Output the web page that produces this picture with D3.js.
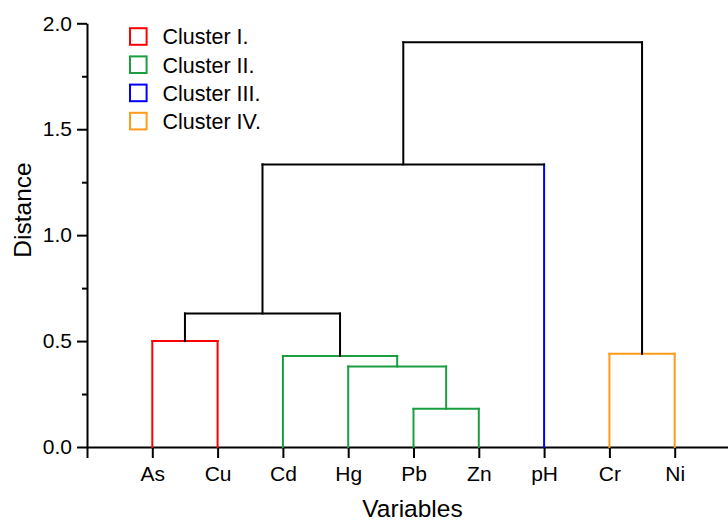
<!DOCTYPE html>
<html>
<head>
<meta charset="utf-8">
<script src="https://cdn.jsdelivr.net/npm/d3@7"></script>
<style>
  body { margin: 0; background: #fff; }
  svg text { font-family: "Liberation Sans", Arial, sans-serif; fill: #000; }
</style>
</head>
<body>
<svg id="chart" width="728" height="521"></svg>
<script>
// leaves in the order drawn along the x axis
var leaves = ["As", "Cu", "Cd", "Hg", "Pb", "Zn", "pH", "Cr", "Ni"];
// cluster index of each leaf
var leafCluster = [0, 0, 1, 1, 1, 1, 2, 3, 3];
var clusterNames = ["Cluster I.", "Cluster II.", "Cluster III.", "Cluster IV."];
var clusterColors = ["#ff0000", "#1a9e40", "#0000ff", "#ff9a1a"];
// merges: [child a, child b, distance]; leaves are 0-8, merge k gets id 9+k
var mergeA = [4, 3, 2, 7, 0, 13, 14, 15];
var mergeB = [5, 9, 10, 8, 1, 11, 6, 12];
var mergeH = [0.18, 0.38, 0.43, 0.44, 0.50, 0.63, 1.334, 1.91];
var yTicks = [0, 0.5, 1.0, 1.5, 2.0];
var yMinor = [0.25, 0.75, 1.25, 1.75];

var svg = d3.select("#chart");

var x = d3.scaleLinear().domain([0, 10]).range([87, 740]);
var y = d3.scaleLinear().domain([0, 2]).range([447, 23.3]);

// node positions
var nodeX = [], nodeH = [], nodeCl = [];
leaves.forEach(function(d, i){
    nodeX[i] = x(i + 1);
    nodeH[i] = 0;
    nodeCl[i] = leafCluster[i];
});
mergeH.forEach(function(h, k){
    var a = mergeA[k], b = mergeB[k], id = leaves.length + k;
    nodeX[id] = (nodeX[a] + nodeX[b]) / 2;
    nodeH[id] = h;
    nodeCl[id] = (nodeCl[a] === nodeCl[b]) ? nodeCl[a] : -1;
});

function colorOf(c){ return c < 0 ? "#000" : clusterColors[c]; }

// axes
var xAxis = d3.axisBottom(x)
    .tickValues(d3.range(0, 10))
    .tickSize(11)
    .tickSizeOuter(0)
    .tickPadding(8)
    .tickFormat(function(i){ return i === 0 ? "" : leaves[i - 1]; });

var gx = svg.append("g")
    .attr("transform", "translate(0," + y(0) + ")")
    .call(xAxis);
gx.selectAll("text").style("font-size", "21px");

var gyMinor = svg.append("g")
    .attr("transform", "translate(" + x(0) + ",0)")
    .call(d3.axisLeft(y).tickValues(yMinor).tickSize(5).tickFormat(""));
gyMinor.select(".domain").remove();

var gy = svg.append("g")
    .attr("transform", "translate(" + x(0) + ",0)")
    .call(d3.axisLeft(y).tickValues(yTicks).tickSize(10).tickSizeOuter(0)
        .tickPadding(5).tickFormat(d3.format(".1f")));
gy.selectAll("text").style("font-size", "21px");

svg.selectAll(".domain, .tick line")
    .attr("stroke", "#000")
    .attr("stroke-width", 2);

// dendrogram links
var links = svg.append("g")
    .attr("stroke-width", 2)
    .attr("stroke-linecap", "square")
    .attr("fill", "none");

mergeH.forEach(function(h, k){
    var a = mergeA[k], b = mergeB[k], id = leaves.length + k;
    var c = colorOf(nodeCl[id]);
    [a, b].forEach(function(ch){
        var legColor = ch < leaves.length ? colorOf(leafCluster[ch]) : c;
        links.append("line")
            .attr("x1", nodeX[ch]).attr("x2", nodeX[ch])
            .attr("y1", y(h)).attr("y2", y(nodeH[ch]))
            .attr("stroke", legColor);
    });
    links.append("line")
        .attr("x1", nodeX[a]).attr("x2", nodeX[b])
        .attr("y1", y(h)).attr("y2", y(h))
        .attr("stroke", c);
});

// legend
var legend = svg.append("g")
    .selectAll("g")
    .data(clusterNames)
    .enter()
    .append("g")
        .attr("transform", function(d, i){ return "translate(130," + (36.5 + i * 28.2) + ")"; });

legend.append("rect")
    .attr("x", 0).attr("y", -8.3)
    .attr("width", 16.6).attr("height", 16.6)
    .attr("fill", "#fff")
    .attr("stroke-width", 2)
    .attr("stroke", function(d, i){ return clusterColors[i]; });

legend.append("text")
    .attr("x", 32.5).attr("y", 7.8)
    .style("font-size", "21.5px")
    .text(function(d){ return d; });

// axis titles
svg.append("text")
    .attr("x", 412.5).attr("y", 516.5)
    .attr("text-anchor", "middle")
    .style("font-size", "24.5px")
    .text("Variables");

svg.append("text")
    .attr("transform", "translate(31,210) rotate(-90)")
    .attr("text-anchor", "middle")
    .style("font-size", "24.5px")
    .text("Distance");
</script>
</body>
</html>
